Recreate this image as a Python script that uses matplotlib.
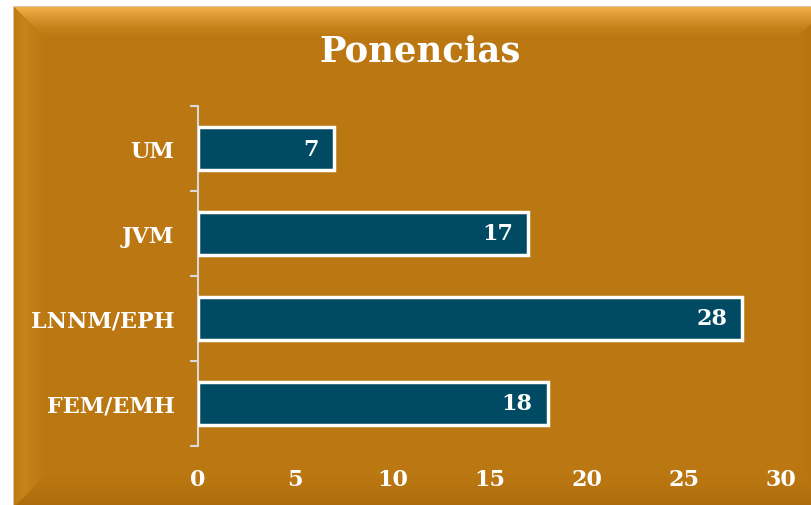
import numpy as np
import matplotlib
matplotlib.use("Agg")
import matplotlib.pyplot as plt
from matplotlib.patches import Polygon
from matplotlib.ticker import FixedLocator

categories = ['FEM/EMH', 'LNNM/EPH', 'JVM', 'UM']
ponencias = [18, 28, 17, 7]
x_ticks = [0, 5, 10, 15, 20, 25, 30]

plt.rcParams['font.family'] = ['DejaVu Serif']
plt.rcParams['font.weight'] = 'bold'

W, H = 811, 506
fig = plt.figure(figsize=(W / 100, H / 100), dpi=100)
fig.patch.set_facecolor('white')

# background panel with bevelled edges (pixel coords, y down)
bg = fig.add_axes([0, 0, 1, 1], zorder=-1)
bg.set_xlim(0, W)
bg.set_ylim(H, 0)
bg.axis('off')
x0, y0, x1, y1 = 14, 8, 828, 508
b = 32
main = '#BB7711'
bg.add_patch(Polygon([(x0, y0), (x1, y0), (x1, y1), (x0, y1)], closed=True,
                     facecolor=main, edgecolor='#C9B89A', lw=1.2))

# top bevel - gradient
top = Polygon([(x0, y0), (x1, y0), (x1 - b, y0 + b), (x0 + b, y0 + b)], closed=True,
              facecolor='none', edgecolor='none')
bg.add_patch(top)
grad = np.linspace(0, 1, 50).reshape(-1, 1)
cmap_top = matplotlib.colors.LinearSegmentedColormap.from_list('t', ['#F3AE48', '#DA9530', '#C5801A', main])
im = bg.imshow(grad, extent=(x0, x1, y0 + b, y0), cmap=cmap_top, aspect='auto', zorder=1)
im.set_clip_path(top)

# left bevel
left = Polygon([(x0, y0), (x0 + b, y0 + b), (x0 + b, y1 - b), (x0, y1)], closed=True,
               facecolor='none', edgecolor='none')
bg.add_patch(left)
gradl = np.linspace(0, 1, 50).reshape(1, -1)
cmap_left = matplotlib.colors.LinearSegmentedColormap.from_list('l', ['#BF7B14', '#C8841A', '#C07C15', main])
im2 = bg.imshow(gradl, extent=(x0, x0 + b, y1, y0), cmap=cmap_left, aspect='auto', zorder=1)
im2.set_clip_path(left)

# bottom bevel
bottom = Polygon([(x0, y1), (x0 + b, y1 - b), (x1 - b, y1 - b), (x1, y1)], closed=True,
                 facecolor='none', edgecolor='none')
bg.add_patch(bottom)
cmap_bot = matplotlib.colors.LinearSegmentedColormap.from_list('b', [main, '#B5730F', '#AC6C0C'])
im3 = bg.imshow(grad, extent=(x0, x1, y1, y1 - b), cmap=cmap_bot, aspect='auto', zorder=1)
im3.set_clip_path(bottom)

# right bevel
right = Polygon([(x1, y0), (x1 - b, y0 + b), (x1 - b, y1 - b), (x1, y1)], closed=True,
                facecolor='none', edgecolor='none')
bg.add_patch(right)
cmap_right = matplotlib.colors.LinearSegmentedColormap.from_list('r', [main, '#B8750F', '#B0700D'])
im4 = bg.imshow(gradl, extent=(x1 - b, x1, y1, y0), cmap=cmap_right, aspect='auto', zorder=1)
im4.set_clip_path(right)

fig.text(420 / W, 1 - 52 / H, 'Ponencias', ha='center', va='center',
         fontsize=25.5, color='white', fontweight='bold')

ax = fig.add_axes([198 / W, 59 / H, 583 / W, 340 / H])
ax.set_facecolor('none')
y = np.arange(len(categories))
ax.barh(y, ponencias, height=0.5, color='#004A63', edgecolor='white', linewidth=2.5, zorder=3)
for yi, v in zip(y, ponencias):
    ax.annotate(str(v), (v, yi), xytext=(-15, 0), textcoords='offset pixels',
                ha='right', va='center', color='white', fontsize=16, fontweight='bold', zorder=4)

ax.set_xlim(0, 30)
ax.set_ylim(-0.5, len(categories) - 0.5)
ax.set_xticks(x_ticks)
ax.set_yticks(y)
ax.set_yticklabels(categories)
ax.yaxis.set_minor_locator(FixedLocator(np.arange(-0.5, len(categories), 1.0)))
ax.tick_params(axis='y', which='major', length=0, pad=17, labelsize=16, labelcolor='white')
ax.tick_params(axis='y', which='minor', length=6, width=1.5, color='#D9D9D9')
ax.tick_params(axis='x', length=0, pad=16, labelsize=16, labelcolor='white')
for s in ['top', 'right', 'bottom']:
    ax.spines[s].set_visible(False)
ax.spines['left'].set_color('#D9D9D9')
ax.spines['left'].set_linewidth(1.5)

fig.savefig('out.png', dpi=100, facecolor='white')
